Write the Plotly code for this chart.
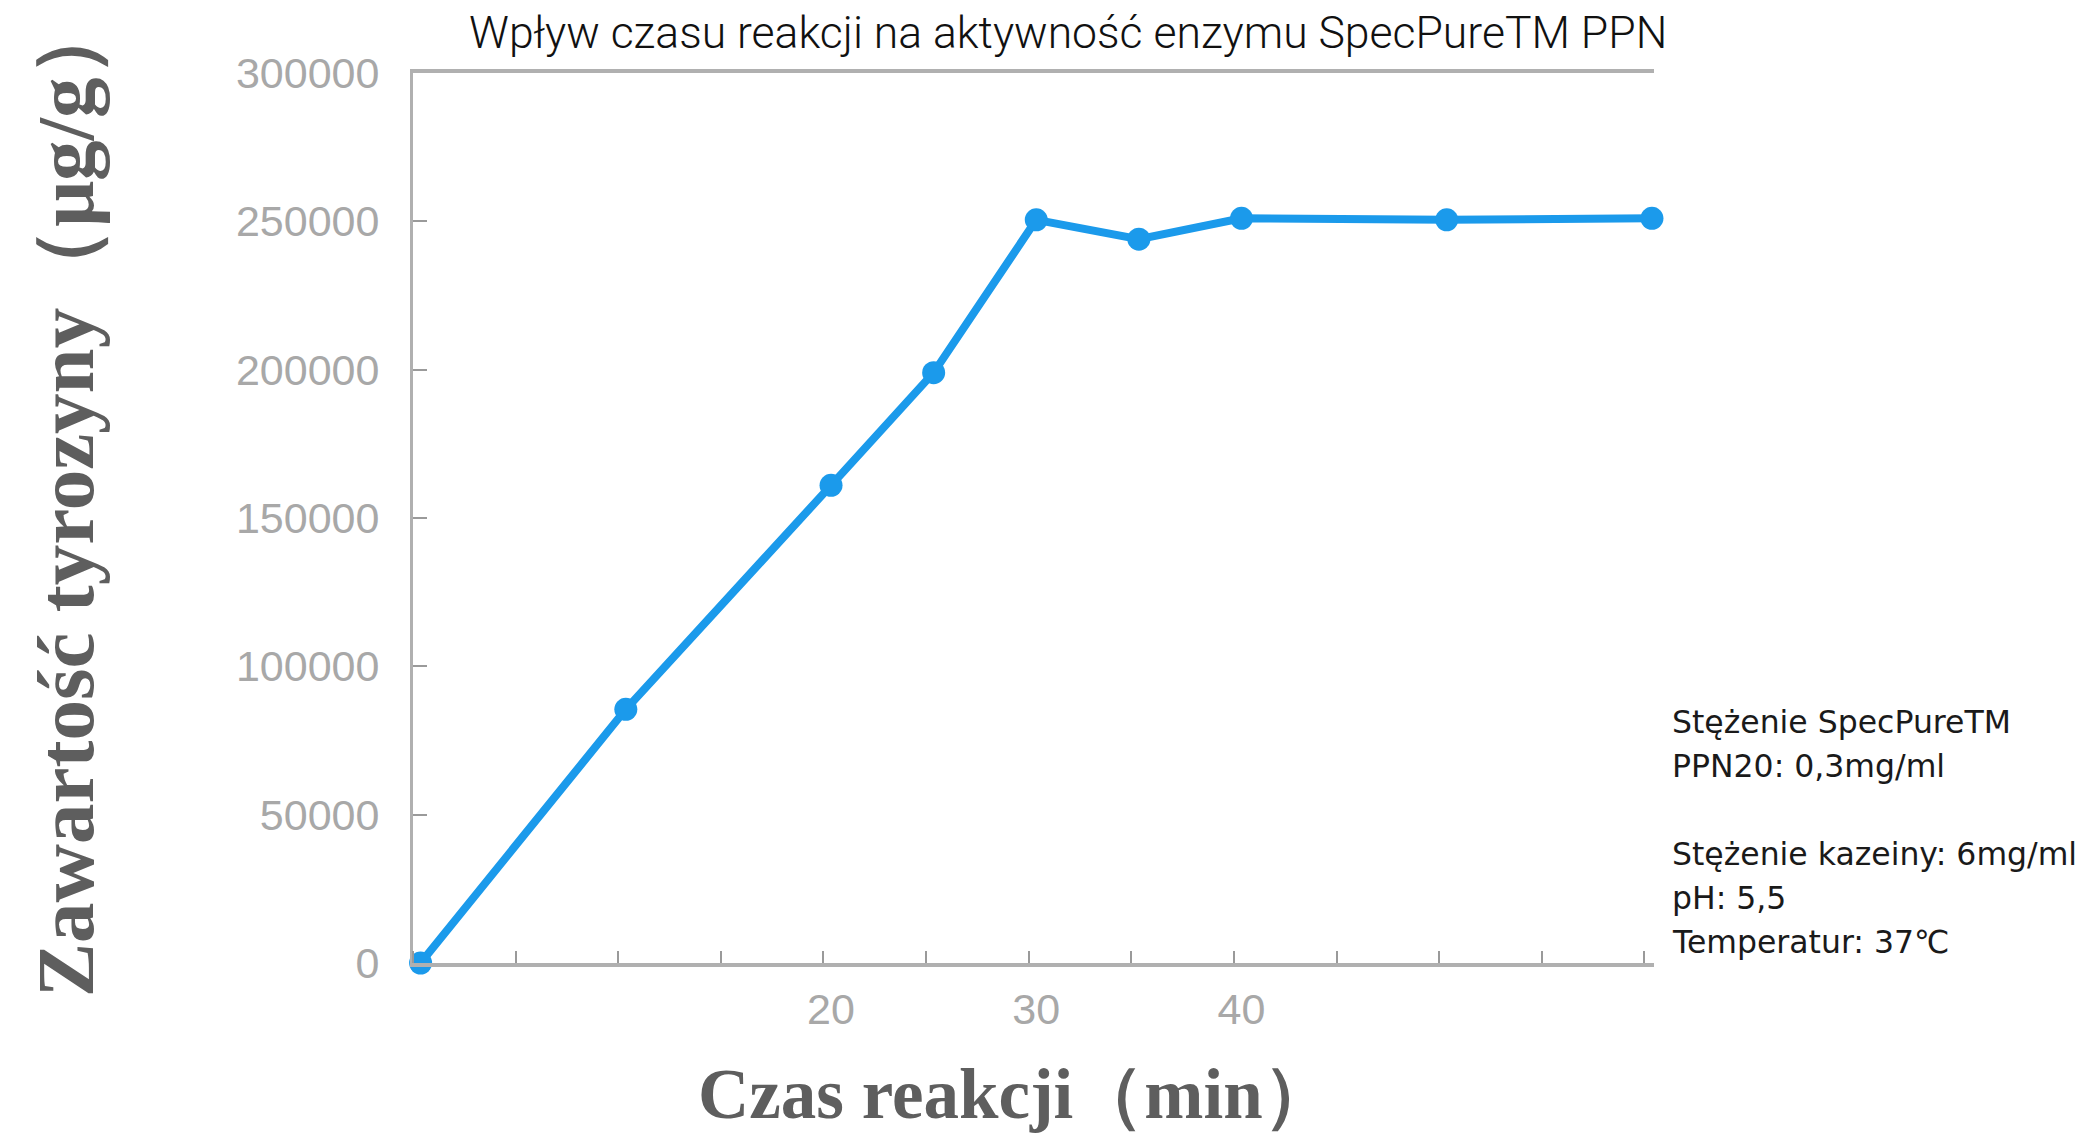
import plotly.graph_objects as go

# Data
czas = [0, 10, 20, 25, 30, 35, 40, 50, 60]
tyrozyna = [0, 85500, 161000, 199000, 250500, 244000, 251000, 250500, 251000]
x_tick_vals = [20, 30, 40]
x_tick_text = ["20", "30", "40"]
y_tick_vals = [0, 50000, 100000, 150000, 200000, 250000, 300000]
y_tick_text = ["0", "50000", "100000", "150000", "200000", "250000", "300000"]

title_text = "Wpływ czasu reakcji na aktywność enzymu SpecPureTM PPN"
x_title = "Czas reakcji（min）"
y_title = "Zawartość tyrozyny（μg/g）"
note_lines = [
    "Stężenie SpecPureTM",
    "PPN20: 0,3mg/ml",
    "Stężenie kazeiny: 6mg/ml",
    "pH: 5,5",
    "Temperatur: 37℃",
]
note_y_px = [722, 766, 854, 898, 942]

W, H = 2091, 1134
L, R, T, B = 413, 1654, 73, 963

fig = go.Figure()
fig.add_trace(go.Scatter(
    x=czas, y=tyrozyna, mode="lines+markers",
    line=dict(color="#1B9AEB", width=8),
    marker=dict(color="#1B9AEB", size=23),
    cliponaxis=False, showlegend=False,
))

axis_gray = "#b0b0b0"
tick_font = dict(family="Liberation Sans, Arial, sans-serif", size=43, color="#a8a8a8")

fig.update_xaxes(
    range=[-0.37, 60.1],
    tickmode="array", tickvals=x_tick_vals, ticktext=x_tick_text,
    ticks="", showgrid=False, zeroline=False,
    showline=True, linecolor=axis_gray, linewidth=4, mirror=True,
    tickfont=tick_font,
    minor=dict(ticks="inside", tick0=-0.37, dtick=5, ticklen=12,
               tickcolor="#9a9a9a", tickwidth=2, showgrid=False),
    ticklabelstandoff=5,
)
fig.update_yaxes(
    range=[0, 300000],
    tickmode="array", tickvals=y_tick_vals, ticktext=y_tick_text,
    ticks="inside", ticklen=14, tickcolor="#9a9a9a", tickwidth=2,
    showgrid=False, zeroline=False,
    showline=True, linecolor=axis_gray, linewidth=3, mirror=False,
    tickfont=tick_font,
    ticklabelstandoff=22,
)

pw, ph = R - L, B - T

def px_to_paper_x(px):
    return (px - L) / pw

def px_to_paper_y(py):
    return (B - py) / ph

annotations = [
    dict(text=title_text, xref="paper", yref="paper",
         x=px_to_paper_x(1068), y=px_to_paper_y(33), xanchor="center", yanchor="middle",
         showarrow=False, font=dict(family="Roboto, sans-serif", size=44.5, color="#111111", weight=300)),
    dict(text=x_title, xref="paper", yref="paper",
         x=px_to_paper_x(1016), y=px_to_paper_y(1094), xanchor="center", yanchor="middle",
         showarrow=False, font=dict(family="Liberation Serif, Times New Roman, serif", size=71,
                                    color="#5e5e5e", weight="bold")),
    dict(text=y_title, xref="paper", yref="paper", textangle=-90,
         x=px_to_paper_x(66), y=px_to_paper_y(497), xanchor="center", yanchor="middle",
         showarrow=False, font=dict(family="Liberation Serif, Times New Roman, serif", size=81,
                                    color="#5e5e5e", weight="bold")),
]
for line, ypx in zip(note_lines, note_y_px):
    annotations.append(dict(text=line, xref="paper", yref="paper",
                            x=px_to_paper_x(1670), y=px_to_paper_y(ypx),
                            xanchor="left", yanchor="middle", showarrow=False,
                            font=dict(family="DejaVu Sans, sans-serif", size=31.5, color="#1a1a1a")))

fig.update_layout(
    width=W, height=H,
    margin=dict(l=L, r=W - R, t=T, b=H - B),
    paper_bgcolor="white", plot_bgcolor="white",
    annotations=annotations,
)

fig.write_html("out.html", config={"displayModeBar": False},
               post_script="document.body.style.margin='0';")
